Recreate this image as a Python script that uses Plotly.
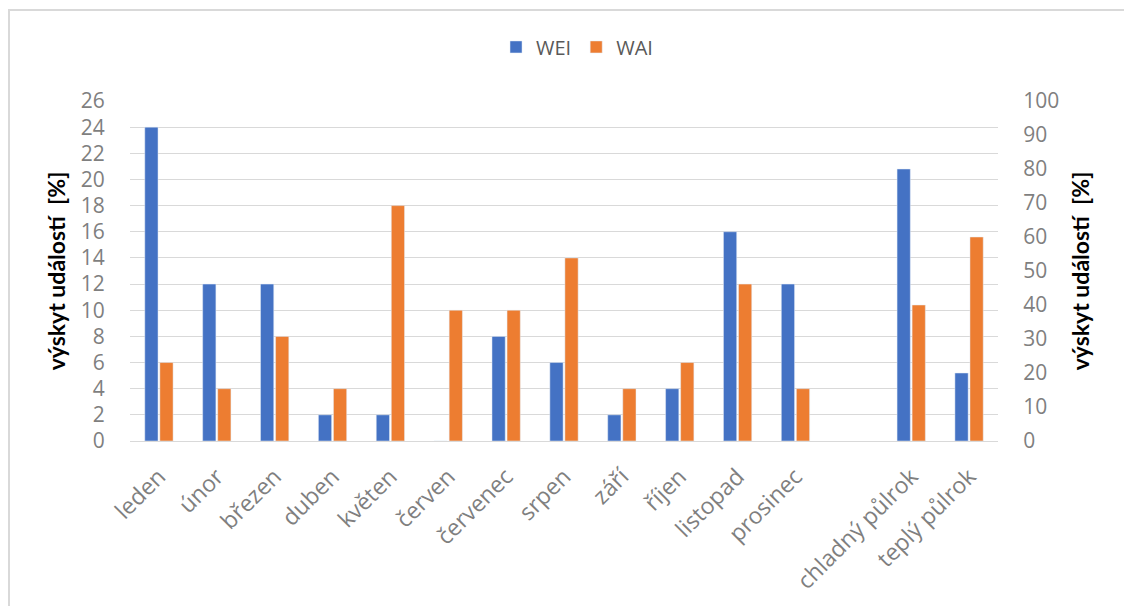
import plotly.graph_objects as go

months = ["leden", "únor", "březen", "duben", "květen", "červen", "červenec",
          "srpen", "září", "říjen", "listopad", "prosinec"]
halves = ["chladný půlrok", "teplý půlrok"]
gap = [" "]

wei_month = [24, 12, 12, 2, 2, 0, 8, 6, 2, 4, 16, 12]
wai_month = [6, 4, 8, 4, 18, 10, 10, 14, 4, 6, 12, 4]
wei_half = [80, 20]
wai_half = [40, 60]

left_ticks = list(range(0, 27, 2))
right_ticks = list(range(0, 101, 10))

BLUE = "#4472C4"
ORANGE = "#ED7D31"
GRAY = "#7F7F7F"
Y_TICK_FONT = dict(family="Open Sans", size=21, color=GRAY)
X_TICK_FONT = dict(family="Open Sans", size=23, color=GRAY)
TITLE_FONT = dict(family="Lato", size=23, color="#000000")
AXIS_TITLE = "<b>výskyt událostí&nbsp; [%]</b>"

fig = go.Figure()
fig.add_trace(go.Bar(x=months, y=wei_month, name="WEI", marker_color=BLUE,
                     offsetgroup="WEI", legendgroup="WEI"))
fig.add_trace(go.Bar(x=months, y=wai_month, name="WAI", marker_color=ORANGE,
                     offsetgroup="WAI", legendgroup="WAI"))
fig.add_trace(go.Bar(x=halves, y=wei_half, name="WEI", marker_color=BLUE,
                     offsetgroup="WEI", legendgroup="WEI", showlegend=False,
                     yaxis="y2"))
fig.add_trace(go.Bar(x=halves, y=wai_half, name="WAI", marker_color=ORANGE,
                     offsetgroup="WAI", legendgroup="WAI", showlegend=False,
                     yaxis="y2"))

categories = months + gap + halves

fig.update_layout(
    width=1124, height=606,
    margin=dict(l=130, r=126, t=101, b=165),
    paper_bgcolor="white", plot_bgcolor="white",
    barmode="group", bargap=0.48, bargroupgap=0.12,
    showlegend=True,
    legend=dict(orientation="h", x=0.515, xanchor="center", y=1.159, yanchor="middle",
                font=dict(family="Open Sans", size=20, color="#595959"),
                itemwidth=30, traceorder="normal"),
    xaxis=dict(type="category", categoryorder="array", categoryarray=categories,
               range=[-0.5, len(categories) - 0.5],
               tickangle=-45, tickfont=X_TICK_FONT, showgrid=False,
               showline=True, linecolor="#D9D9D9", linewidth=1,
               ticks="outside", ticklen=12, tickcolor="rgba(0,0,0,0)"),
    yaxis=dict(range=[0, 26], tickvals=left_ticks, tickfont=Y_TICK_FONT,
               showgrid=True, gridcolor="#D9D9D9", gridwidth=1, zeroline=False,
               ticks="outside", ticklen=20, tickcolor="rgba(0,0,0,0)",
               title=dict(text=AXIS_TITLE, font=TITLE_FONT, standoff=8)),
    yaxis2=dict(range=[0, 100], tickvals=right_ticks, tickfont=Y_TICK_FONT,
                overlaying="y", side="right", showgrid=False, zeroline=False,
                ticks="outside", ticklen=20, tickcolor="rgba(0,0,0,0)",
                title=dict(text=AXIS_TITLE, font=TITLE_FONT, standoff=14)),
)

# frame around the chart area (top and left edges visible)
fig.add_shape(type="rect", xref="paper", yref="paper",
              x0=(9 - 130) / 868, x1=(1140 - 130) / 868,
              y0=(441 - 620) / 340, y1=(441 - 10) / 340,
              line=dict(color="#D9D9D9", width=2), fillcolor="rgba(0,0,0,0)",
              layer="below")

fig.write_html("out.html")
